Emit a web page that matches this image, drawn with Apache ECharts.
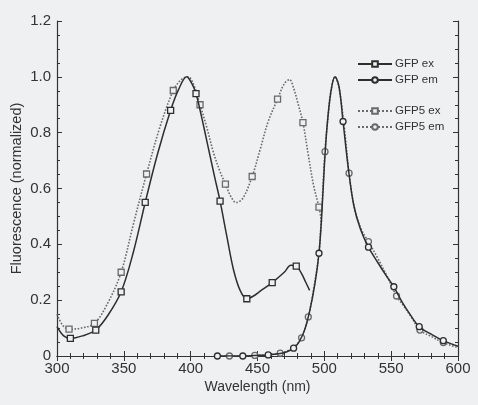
<!DOCTYPE html>
<html><head><meta charset="utf-8">
<script src="https://cdn.jsdelivr.net/npm/echarts@6/dist/echarts.min.js"></script>
<style>html,body{margin:0;padding:0;background:#eef0f1;}#c{width:478px;height:405px;}</style>
</head><body><div id="c"></div>
<script>
// ---- data (wavelength nm, normalized fluorescence) ----
const gfpExCurve = [[300,0.105],[305,0.072],[310,0.063],[319,0.072],[329,0.093],[338,0.145],[348,0.23],[357,0.37],[366,0.55],[375,0.72],[385,0.88],[391,0.955],[397,1.0],[401,0.975],[404,0.94],[408,0.86],[413,0.75],[418,0.64],[422,0.555],[427,0.43],[432,0.31],[437,0.235],[442,0.205],[447,0.215],[452,0.232],[461,0.263],[470,0.3],[475,0.325],[479,0.322],[483,0.295],[486,0.265],[489,0.235]];
const gfpExMarks = [310,329,348,366,385,404,422,442,461,479];

const gfpEmCurve = [[420,0],[430,0],[439,0],[448,0.002],[458,0.004],[467,0.009],[472,0.015],[477,0.028],[481,0.05],[485,0.09],[489,0.16],[493,0.26],[496,0.368],[498,0.5],[500,0.68],[502,0.82],[505,0.95],[508,1.0],[511,0.965],[514,0.84],[518,0.67],[522,0.54],[527,0.455],[533,0.39],[540,0.335],[546,0.29],[552,0.248],[558,0.195],[564,0.15],[571,0.105],[580,0.078],[589,0.055],[600,0.035]];
const gfpEmMarks = [420,439,458,477,496,514,533,552,571,589];

const gfp5ExCurve = [[300,0.15],[304,0.112],[309,0.096],[318,0.1],[328,0.117],[338,0.19],[348,0.30],[357,0.47],[367,0.652],[377,0.82],[387,0.951],[393,0.99],[398,1.0],[402,0.975],[407,0.9],[412,0.82],[417,0.73],[422,0.66],[426,0.616],[430,0.572],[434,0.55],[439,0.565],[446,0.643],[452,0.74],[458,0.84],[465,0.92],[470,0.975],[474,0.99],[477,0.96],[480,0.91],[484,0.836],[488,0.72],[492,0.61],[496,0.533],[498,0.48]];
const gfp5ExMarks = [309,328,348,367,387,407,426,446,465,484,496];

const gfp5EmCurve = [[420,0],[429,0],[439,0],[448,0.002],[458,0.005],[467,0.01],[473,0.02],[478,0.035],[483,0.065],[488,0.14],[492,0.24],[496,0.37],[498,0.52],[500.5,0.732],[503,0.87],[505,0.95],[508,1.0],[511,0.96],[515,0.816],[518.5,0.655],[523,0.52],[528,0.45],[533,0.41],[540,0.35],[547,0.285],[554,0.215],[560,0.175],[565,0.14],[571.5,0.093],[580,0.07],[589,0.048],[600,0.03]];
const gfp5EmMarks = [429,448,467,483,488,500.5,518.5,533,554,571.5,589];

const xTicks = [300,350,400,450,500,550,600];
const yTicks = [0,0.2,0.4,0.6,0.8,1.0,1.2];

// ---- chart ----
const BG = '#eef0f1';
const FONT = 'Liberation Sans, Arial, sans-serif';
function build(curve, marks){
  return curve.map(p => marks.includes(p[0]) ? {value:p} : {value:p, symbol:'none'});
}
function series(name, curve, marks, sym, size, dotted){
  const col = dotted ? '#6a6a6a' : '#2e2e2e';
  return {
    name, type:'line', data: build(curve, marks), smooth:0.35,
    symbol: sym, symbolSize: size, showSymbol:true,
    z: dotted ? 2 : 3,
    lineStyle:{color:col, width: dotted?1.6:1.5, type: dotted?'dotted':'solid'},
    itemStyle:{color:BG, borderColor:col, borderWidth:1.3},
    emphasis:{disabled:true}, animation:false
  };
}
const ch = echarts.init(document.getElementById('c'), null, {renderer:'canvas'});
const tickStyle = {color:'#333', width:1};
const baseX = {type:'value', min:300, max:600, interval:50,
  axisLine:{show:true, lineStyle:{color:'#333', width:1.2}},
  axisTick:{show:true, inside:true, length:5, lineStyle:tickStyle},
  minorTick:{show:true, splitNumber:5, length:3, lineStyle:tickStyle},
  splitLine:{show:false}};
const baseY = {type:'value', min:0, max:1.2, interval:0.2,
  axisLine:{show:true, lineStyle:{color:'#333', width:1.2}},
  axisTick:{show:true, inside:true, length:5, lineStyle:tickStyle},
  minorTick:{show:true, splitNumber:4, length:3, lineStyle:tickStyle},
  splitLine:{show:false}};
const legText = {fontSize:11.5, color:'#333', fontFamily:FONT, padding:[0,0,0,-2]};
ch.setOption({
  backgroundColor: BG,
  animation:false,
  textStyle:{fontFamily:FONT},
  grid:{left:57, right:20, top:21, bottom:49, containLabel:false, outerBoundsMode:'none'},
  legend:[
    {top:53, left:352, orient:'vertical', itemWidth:34, itemHeight:7, itemGap:4,
     data:['GFP ex','GFP em'], textStyle:legText, selectedMode:false},
    {top:100, left:352, orient:'vertical', itemWidth:34, itemHeight:7, itemGap:4,
     data:['GFP5 ex','GFP5 em'], textStyle:legText, selectedMode:false}
  ],
  xAxis:[
    Object.assign({}, baseX, {position:'bottom', name:'Wavelength (nm)', nameLocation:'middle', nameGap:24,
      nameMoveOverlap:false,
      nameTextStyle:{fontSize:14, color:'#333', fontFamily:FONT},
      axisLabel:{show:true, margin:5, fontSize:15, color:'#333', fontFamily:FONT,
        formatter:v => xTicks.includes(v) ? String(v) : ''}}),
    Object.assign({}, baseX, {position:'top', axisLabel:{show:false}})
  ],
  yAxis:[
    Object.assign({}, baseY, {position:'left', name:'Fluorescence (normalized)', nameLocation:'middle', nameGap:33,
      nameMoveOverlap:false,
      nameTextStyle:{fontSize:14.5, color:'#333', fontFamily:FONT},
      axisLabel:{show:true, margin:6, fontSize:15, color:'#333', fontFamily:FONT,
        formatter:v => { const t = yTicks.find(k => Math.abs(k-v)<1e-9); return t===undefined ? '' : (t===0 ? '0' : t.toFixed(1)); }}}),
    Object.assign({}, baseY, {position:'right', axisLabel:{show:false}})
  ],
  series:[
    series('GFP ex', gfpExCurve, gfpExMarks, 'rect', 6, false),
    series('GFP em', gfpEmCurve, gfpEmMarks, 'circle', 6, false),
    series('GFP5 ex', gfp5ExCurve, gfp5ExMarks, 'rect', 6, true),
    series('GFP5 em', gfp5EmCurve, gfp5EmMarks, 'circle', 6, true)
  ]
});
</script></body></html>
